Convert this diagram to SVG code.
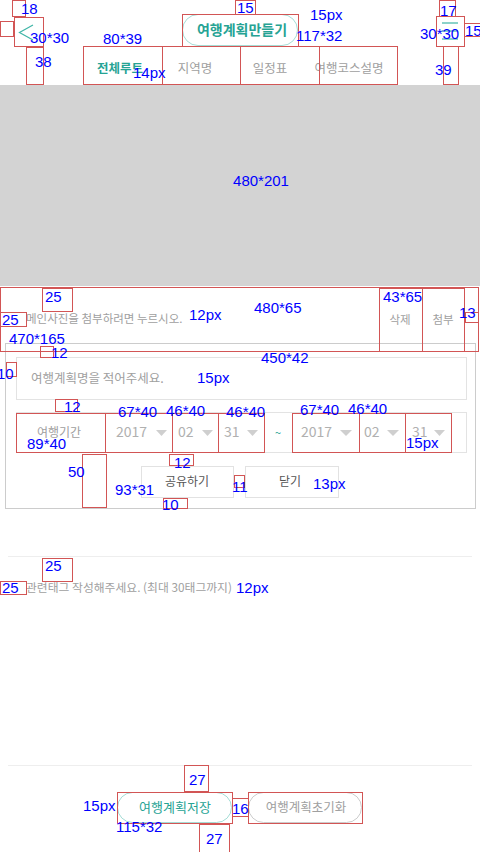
<svg xmlns="http://www.w3.org/2000/svg" width="480" height="852" viewBox="0 0 480 852">
<style>
.ui{font-family:"Noto Sans CJK KR","Noto Sans",sans-serif;}
.teal{fill:#26a394;}
.gray{fill:#a0a0a0;}
.dark{fill:#555555;}
.lbl{font-family:"Liberation Sans",Arial,sans-serif;font-size:15px;fill:#0000ff;}
.rb{fill:none;stroke:#d25555;stroke-width:1;}
.tri{fill:#cfcfcf;}
</style>
<rect x="0" y="0" width="480" height="852" fill="#ffffff"/>

<g id="header">
  <polyline points="33,25 19.5,32.5 33,40" fill="none" stroke="#3fb5a7" stroke-width="1.2"/>
  <g id="title-button">
    <rect x="182.5" y="14.5" width="115" height="31" rx="15.5" fill="#ffffff" stroke="#a5ddd6"/>
    <text class="ui teal" x="242" y="35" font-size="14" font-weight="bold" text-anchor="middle">여행계획만들기</text>
  </g>
  <g id="menu-button" stroke="#3fb5a7" stroke-width="1.2">
    <line x1="442" y1="23" x2="458" y2="23"/>
    <line x1="442" y1="31" x2="458" y2="31"/>
    <line x1="442" y1="39" x2="458" y2="39"/>
  </g>
</g>

<g id="tabs">
  <text class="ui teal" x="120" y="73" font-size="12.5" font-weight="bold" text-anchor="middle">전체루트</text>
  <text class="ui gray" x="195" y="73" font-size="12.5" text-anchor="middle">지역명</text>
  <text class="ui gray" x="270" y="73" font-size="12.5" text-anchor="middle">일정표</text>
  <text class="ui gray" x="349" y="73" font-size="12.5" text-anchor="middle">여행코스설명</text>
</g>

<g id="banner">
  <rect x="0" y="85" width="480" height="201" fill="#d3d3d3"/>
</g>

<g id="photo-row">
  <text class="ui gray" x="26" y="323" font-size="11.5">메인사진을 첨부하려면 누르시오.</text>
  <text class="ui gray" x="400" y="324" font-size="11.5" text-anchor="middle">삭제</text>
  <text class="ui gray" x="443" y="324" font-size="11.5" text-anchor="middle">첨부</text>
</g>

<g id="plan-panel">
  <rect x="5.5" y="343.5" width="470" height="165" fill="#ffffff" stroke="#cccccc"/>
  <g id="plan-name">
    <rect x="16.5" y="357.5" width="450" height="42" fill="#ffffff" stroke="#e3e3e3"/>
    <text class="ui gray" x="31" y="383" font-size="12.5">여행계획명을 적어주세요.</text>
  </g>
  <g id="plan-period">
    <rect x="16.5" y="412.5" width="450" height="40" fill="#ffffff" stroke="#e3e3e3"/>
    <text class="ui gray" x="59" y="437" font-size="12" text-anchor="middle">여행기간</text>
    <text class="ui" fill="#b0b0b0" x="116" y="437" font-size="14">2017</text>
    <polygon class="tri" points="156,430 167,430 161.5,436"/>
    <text class="ui" fill="#b0b0b0" x="178" y="437" font-size="14">02</text>
    <polygon class="tri" points="202,430 213,430 207.5,436"/>
    <text class="ui" fill="#b0b0b0" x="224" y="437" font-size="14">31</text>
    <polygon class="tri" points="247,430 258,430 252.5,436"/>
    <text class="ui teal" x="278" y="437" font-size="11" text-anchor="middle">~</text>
    <text class="ui" fill="#b0b0b0" x="301" y="437" font-size="14">2017</text>
    <polygon class="tri" points="340,430 352,430 346,436"/>
    <text class="ui" fill="#b0b0b0" x="364" y="437" font-size="14">02</text>
    <polygon class="tri" points="387,430 399,430 393,436"/>
    <text class="ui" fill="#b0b0b0" x="412" y="437" font-size="14">31</text>
    <polygon class="tri" points="434,430 445,430 439.5,436"/>
  </g>
  <g id="share-button">
    <rect x="141.5" y="466.5" width="92" height="31" fill="#ffffff" stroke="#e2e2e2"/>
    <text class="ui dark" x="187" y="486" font-size="12" text-anchor="middle">공유하기</text>
  </g>
  <g id="close-button">
    <rect x="245.5" y="466.5" width="93" height="31" fill="#ffffff" stroke="#e2e2e2"/>
    <text class="ui dark" x="290" y="486" font-size="12" text-anchor="middle">닫기</text>
  </g>
</g>

<g id="tag-row">
  <line x1="8" y1="556.5" x2="472" y2="556.5" stroke="#eeeeee"/>
  <text class="ui gray" x="26" y="592" font-size="11.8">관련태그 작성해주세요. (최대 30태그까지)</text>
</g>

<g id="footer">
  <line x1="8" y1="765.5" x2="472" y2="765.5" stroke="#eeeeee"/>
  <g id="save-button">
    <rect x="117.5" y="792.5" width="114" height="30" rx="15" fill="#ffffff" stroke="#a5ddd6"/>
    <text class="ui teal" x="175" y="812" font-size="13" text-anchor="middle">여행계획저장</text>
  </g>
  <g id="reset-button">
    <rect x="248.5" y="792.5" width="113" height="30" rx="15" fill="#ffffff" stroke="#cccccc"/>
    <text class="ui gray" x="306" y="812" font-size="12.5" text-anchor="middle">여행계획초기화</text>
  </g>
</g>

<g id="connectors">
  <rect class="rb" x="12.5" y="0.5" width="13" height="16"/>
  <rect class="rb" x="0.5" y="21.5" width="13" height="15"/>
  <rect class="rb" x="14.5" y="17.5" width="29" height="29"/>
  <rect class="rb" x="26.5" y="47.5" width="17" height="37"/>
  <rect class="rb" x="235.5" y="0.5" width="20" height="14"/>
  <rect class="rb" x="182.5" y="14.5" width="116" height="32"/>
  <rect class="rb" x="83.5" y="46.5" width="79" height="38"/>
  <rect class="rb" x="162.5" y="46.5" width="78" height="38"/>
  <rect class="rb" x="240.5" y="46.5" width="79" height="38"/>
  <rect class="rb" x="319.5" y="46.5" width="78" height="38"/>
  <rect class="rb" x="439.5" y="0.5" width="16" height="16"/>
  <rect class="rb" x="436.5" y="16.5" width="28" height="30"/>
  <rect class="rb" x="464.5" y="23.5" width="16" height="13"/>
  <rect class="rb" x="443.5" y="46.5" width="15" height="38"/>
  <rect class="rb" x="0.5" y="287.5" width="478" height="64"/>
  <rect class="rb" x="42.5" y="288.5" width="30" height="23"/>
  <rect class="rb" x="0.5" y="312.5" width="26" height="14"/>
  <rect class="rb" x="379.5" y="288.5" width="43" height="63"/>
  <rect class="rb" x="422.5" y="288.5" width="42" height="63"/>
  <rect class="rb" x="465.5" y="312.5" width="13" height="10"/>
  <rect class="rb" x="40.5" y="346.5" width="13" height="11"/>
  <rect class="rb" x="6.5" y="362.5" width="10" height="14"/>
  <rect class="rb" x="55.5" y="399.5" width="22" height="12"/>
  <rect class="rb" x="16.5" y="413.5" width="89" height="39"/>
  <rect class="rb" x="105.5" y="413.5" width="67" height="39"/>
  <rect class="rb" x="172.5" y="413.5" width="46" height="39"/>
  <rect class="rb" x="218.5" y="413.5" width="46" height="39"/>
  <rect class="rb" x="292.5" y="413.5" width="67" height="39"/>
  <rect class="rb" x="359.5" y="413.5" width="46" height="39"/>
  <rect class="rb" x="405.5" y="413.5" width="46" height="39"/>
  <rect class="rb" x="169.5" y="454.5" width="24" height="11"/>
  <rect class="rb" x="82.5" y="454.5" width="24" height="53"/>
  <rect class="rb" x="234.5" y="475.5" width="10" height="12"/>
  <rect class="rb" x="163.5" y="498.5" width="24" height="10"/>
  <rect class="rb" x="42.5" y="558.5" width="30" height="23"/>
  <rect class="rb" x="0.5" y="581.5" width="26" height="13"/>
  <rect class="rb" x="184.5" y="765.5" width="24" height="26"/>
  <rect class="rb" x="117.5" y="792.5" width="115" height="31"/>
  <rect class="rb" x="232.5" y="798.5" width="16" height="18"/>
  <rect class="rb" x="248.5" y="792.5" width="114" height="31"/>
  <rect class="rb" x="199.5" y="824.5" width="30" height="28"/>
</g>

<g id="labels">
  <text class="lbl" x="21" y="14">18</text>
  <text class="lbl" x="30" y="43">30*30</text>
  <text class="lbl" x="35" y="67">38</text>
  <text class="lbl" x="103" y="44">80*39</text>
  <text class="lbl" x="133" y="78">14px</text>
  <text class="lbl" x="237" y="13">15</text>
  <text class="lbl" x="310" y="20">15px</text>
  <text class="lbl" x="296" y="41">117*32</text>
  <text class="lbl" x="440" y="16">17</text>
  <text class="lbl" x="420" y="39">30*30</text>
  <text class="lbl" x="465" y="36">15</text>
  <text class="lbl" x="435" y="75">39</text>
  <text class="lbl" x="261" y="186" text-anchor="middle">480*201</text>
  <text class="lbl" x="45" y="302">25</text>
  <text class="lbl" x="2" y="325">25</text>
  <text class="lbl" x="189" y="320">12px</text>
  <text class="lbl" x="254" y="313">480*65</text>
  <text class="lbl" x="383" y="302">43*65</text>
  <text class="lbl" x="459" y="318">13</text>
  <text class="lbl" x="9" y="344">470*165</text>
  <text class="lbl" x="51" y="358">12</text>
  <text class="lbl" x="-3" y="379">10</text>
  <text class="lbl" x="197" y="383">15px</text>
  <text class="lbl" x="261" y="363">450*42</text>
  <text class="lbl" x="64" y="412">12</text>
  <text class="lbl" x="118" y="417">67*40</text>
  <text class="lbl" x="166" y="416">46*40</text>
  <text class="lbl" x="226" y="417">46*40</text>
  <text class="lbl" x="300" y="415">67*40</text>
  <text class="lbl" x="348" y="414">46*40</text>
  <text class="lbl" x="406" y="448">15px</text>
  <text class="lbl" x="27" y="449">89*40</text>
  <text class="lbl" x="68" y="477">50</text>
  <text class="lbl" x="115" y="495">93*31</text>
  <text class="lbl" x="174" y="468">12</text>
  <text class="lbl" x="162" y="510">10</text>
  <text class="lbl" x="232" y="492">11</text>
  <text class="lbl" x="313" y="489">13px</text>
  <text class="lbl" x="45" y="571">25</text>
  <text class="lbl" x="2" y="593">25</text>
  <text class="lbl" x="236" y="593">12px</text>
  <text class="lbl" x="189" y="785">27</text>
  <text class="lbl" x="83" y="811">15px</text>
  <text class="lbl" x="232" y="814">16</text>
  <text class="lbl" x="116" y="832">115*32</text>
  <text class="lbl" x="206" y="844">27</text>
</g>
</svg>
